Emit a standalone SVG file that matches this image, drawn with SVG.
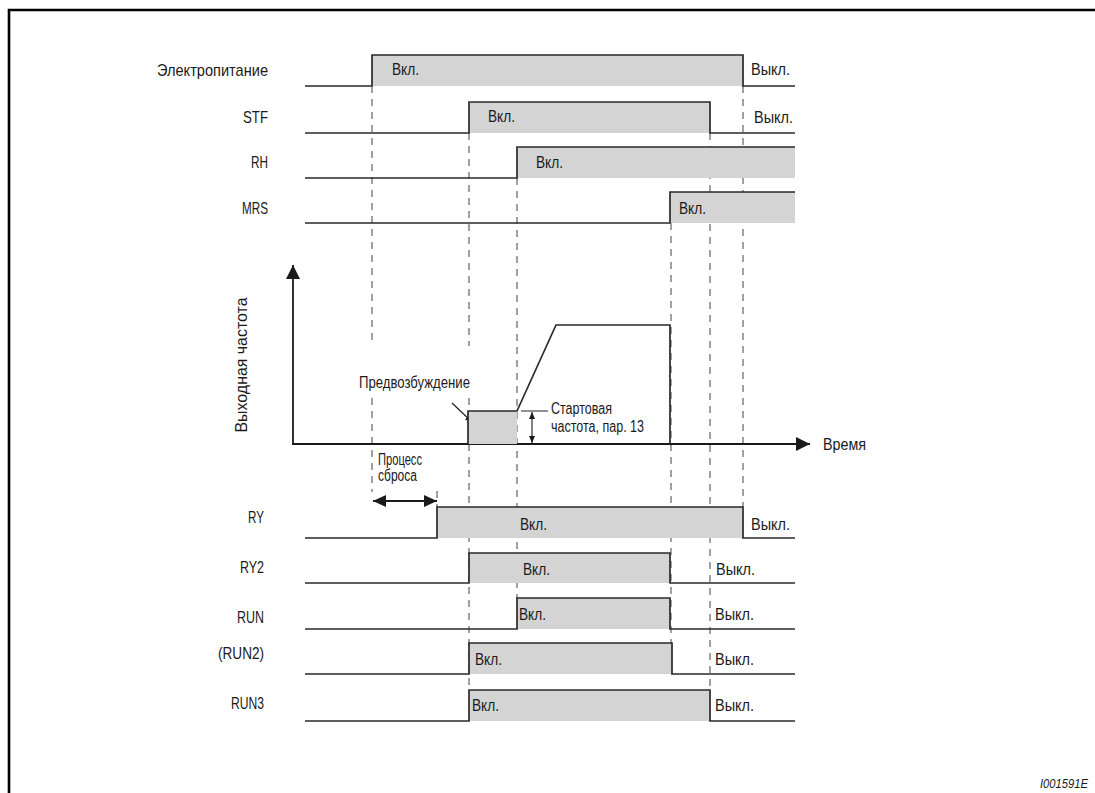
<svg xmlns="http://www.w3.org/2000/svg" width="1095" height="793" viewBox="0 0 1095 793">
<defs>
<style>
text{font-family:"Liberation Sans Narrow","Liberation Sans",Arial,sans-serif;font-size:17px;fill:#1a1a1a;}
.lbl{text-anchor:end;}
.sm{font-size:16px;}
.wave{fill:none;stroke:#2a2a2a;stroke-width:1.7;}
.on{fill:#d4d4d4;stroke:none;}
.dash{stroke:#555;stroke-width:1.1;stroke-dasharray:7 6;fill:none;}
.ax{stroke:#1a1a1a;stroke-width:1.8;fill:none;}
.thin{stroke:#1a1a1a;stroke-width:1.1;fill:none;}
.frame{stroke:#000;stroke-width:2.6;fill:none;}
</style>
<marker id="bigArrow" viewBox="0 0 14 14" refX="14" refY="7" markerWidth="14" markerHeight="14" markerUnits="userSpaceOnUse" orient="auto"><path d="M0,0 L14,7 L0,14 z" fill="#1a1a1a"/></marker>
<marker id="midArrow" viewBox="0 0 13 12" refX="13" refY="6" markerWidth="13" markerHeight="12" markerUnits="userSpaceOnUse" orient="auto-start-reverse"><path d="M0,0 L13,6 L0,12 z" fill="#1a1a1a"/></marker>
<marker id="smArrow" viewBox="0 0 7 6" refX="7" refY="3" markerWidth="7" markerHeight="6" markerUnits="userSpaceOnUse" orient="auto-start-reverse"><path d="M0,0 L7,3 L0,6 z" fill="#1a1a1a"/></marker>
</defs>
<rect x="0" y="0" width="1095" height="793" fill="#fff"/>
<path class="frame" d="M9,793 V10 H1095"/>

<g id="connectors">
<line class="dash" x1="372" y1="86" x2="372" y2="346"/>
<line class="dash" x1="372" y1="398" x2="372" y2="492"/>
<line class="dash" x1="437" y1="491" x2="437" y2="507"/>
<line class="dash" x1="469" y1="133" x2="469" y2="346"/>
<line class="dash" x1="469" y1="398" x2="469" y2="411"/>
<line class="dash" x1="469" y1="444" x2="469" y2="690"/>
<line class="dash" x1="517" y1="178" x2="517" y2="598"/>
<line class="dash" x1="671" y1="223" x2="671" y2="643"/>
<line class="dash" x1="710" y1="133" x2="710" y2="690"/>
<line class="dash" x1="743" y1="86" x2="743" y2="507"/>
<line class="thin" x1="452" y1="403" x2="472" y2="422" marker-end="url(#smArrow)"/>
<line class="thin" x1="532" y1="412" x2="532" y2="443" marker-start="url(#smArrow)" marker-end="url(#smArrow)"/>
<line x1="521" y1="411" x2="548" y2="411" stroke="#555" stroke-width="1.3"/>
<line class="ax" x1="373" y1="501" x2="437" y2="501" marker-start="url(#midArrow)" marker-end="url(#midArrow)"/>
</g>

<g id="power">
<text class="lbl" x="268" y="76" textLength="111" lengthAdjust="spacingAndGlyphs">Электропитание</text>
<rect class="on" x="372" y="55" width="371" height="31"/>
<path class="wave" d="M305,86 H372 V55 H743 V86 H795"/>
<text x="392" y="75" textLength="27" lengthAdjust="spacingAndGlyphs">Вкл.</text>
<text x="751" y="75" textLength="39" lengthAdjust="spacingAndGlyphs">Выкл.</text>
</g>

<g id="stf">
<text class="lbl" x="268" y="123" textLength="25" lengthAdjust="spacingAndGlyphs">STF</text>
<rect class="on" x="469" y="102" width="241" height="31"/>
<path class="wave" d="M305,133 H469 V102 H710 V133 H795"/>
<text x="488" y="122" textLength="27" lengthAdjust="spacingAndGlyphs">Вкл.</text>
<text x="754" y="123" textLength="39" lengthAdjust="spacingAndGlyphs">Выкл.</text>
</g>

<g id="rh">
<text class="lbl" x="268" y="168" textLength="17" lengthAdjust="spacingAndGlyphs">RH</text>
<rect class="on" x="517" y="147" width="278" height="31"/>
<path class="wave" d="M305,178 H517 V147 H795"/>
<text x="536" y="168" textLength="27" lengthAdjust="spacingAndGlyphs">Вкл.</text>
</g>

<g id="mrs">
<text class="lbl" x="268" y="214" textLength="26" lengthAdjust="spacingAndGlyphs">MRS</text>
<rect class="on" x="670" y="192" width="125" height="31"/>
<path class="wave" d="M305,223 H670 V192 H795"/>
<text x="679" y="214" textLength="27" lengthAdjust="spacingAndGlyphs">Вкл.</text>
</g>

<g id="frequency">
<text transform="translate(247,365) rotate(-90)" text-anchor="middle" textLength="135" lengthAdjust="spacingAndGlyphs">Выходная частота</text>
<line class="ax" x1="293" y1="445" x2="293" y2="265" marker-end="url(#bigArrow)"/>
<line class="ax" x1="292" y1="444" x2="810" y2="444" marker-end="url(#bigArrow)"/>
<rect class="on" x="468" y="411" width="49" height="33"/>
<path class="wave" d="M468,444 V411 H517 L556,325 H670 V444"/>
<text x="823" y="450" textLength="43" lengthAdjust="spacingAndGlyphs">Время</text>
</g>

<g id="preexcitation">
<text class="sm" x="359" y="388" textLength="111" lengthAdjust="spacingAndGlyphs">Предвозбуждение</text>
</g>

<g id="start-frequency">
<text class="sm" x="551" y="414" textLength="61" lengthAdjust="spacingAndGlyphs">Стартовая</text>
<text class="sm" x="551" y="432" textLength="93" lengthAdjust="spacingAndGlyphs">частота, пар. 13</text>
</g>

<g id="reset">
<text class="sm" x="378" y="465" textLength="44" lengthAdjust="spacingAndGlyphs">Процесс</text>
<text class="sm" x="378" y="481" textLength="39" lengthAdjust="spacingAndGlyphs">сброса</text>
</g>

<g id="ry">
<text class="lbl" x="264" y="523" textLength="16" lengthAdjust="spacingAndGlyphs">RY</text>
<rect class="on" x="437" y="507" width="306" height="31"/>
<path class="wave" d="M305,538 H437 V507 H743 V538 H795"/>
<text x="520" y="530" textLength="27" lengthAdjust="spacingAndGlyphs">Вкл.</text>
<text x="751" y="530" textLength="39" lengthAdjust="spacingAndGlyphs">Выкл.</text>
</g>

<g id="ry2">
<text class="lbl" x="264" y="573" textLength="24" lengthAdjust="spacingAndGlyphs">RY2</text>
<rect class="on" x="469" y="553" width="201" height="30"/>
<path class="wave" d="M305,583 H469 V553 H670 V583 H795"/>
<text x="523" y="575" textLength="27" lengthAdjust="spacingAndGlyphs">Вкл.</text>
<text x="716" y="575" textLength="39" lengthAdjust="spacingAndGlyphs">Выкл.</text>
</g>

<g id="run">
<text class="lbl" x="264" y="623" textLength="27" lengthAdjust="spacingAndGlyphs">RUN</text>
<rect class="on" x="517" y="598" width="153" height="31"/>
<path class="wave" d="M305,629 H517 V598 H670 V629 H795"/>
<text x="519" y="620" textLength="27" lengthAdjust="spacingAndGlyphs">Вкл.</text>
<text x="715" y="620" textLength="39" lengthAdjust="spacingAndGlyphs">Выкл.</text>
</g>

<g id="run2">
<text class="lbl" x="264" y="659" textLength="46" lengthAdjust="spacingAndGlyphs">(RUN2)</text>
<rect class="on" x="469" y="643" width="203" height="31"/>
<path class="wave" d="M305,674 H469 V643 H672 V674 H795"/>
<text x="475" y="665" textLength="27" lengthAdjust="spacingAndGlyphs">Вкл.</text>
<text x="715" y="665" textLength="39" lengthAdjust="spacingAndGlyphs">Выкл.</text>
</g>

<g id="run3">
<text class="lbl" x="264" y="709" textLength="33" lengthAdjust="spacingAndGlyphs">RUN3</text>
<rect class="on" x="469" y="690" width="241" height="31"/>
<path class="wave" d="M305,721 H469 V690 H710 V721 H795"/>
<text x="472" y="711" textLength="27" lengthAdjust="spacingAndGlyphs">Вкл.</text>
<text x="715" y="711" textLength="39" lengthAdjust="spacingAndGlyphs">Выкл.</text>
</g>

<g id="figure-id">
<text x="1088" y="788" text-anchor="end" style="font-family:'Liberation Sans',Arial,sans-serif;font-size:12px;font-style:italic" textLength="48" lengthAdjust="spacingAndGlyphs">I001591E</text>
</g>
</svg>
